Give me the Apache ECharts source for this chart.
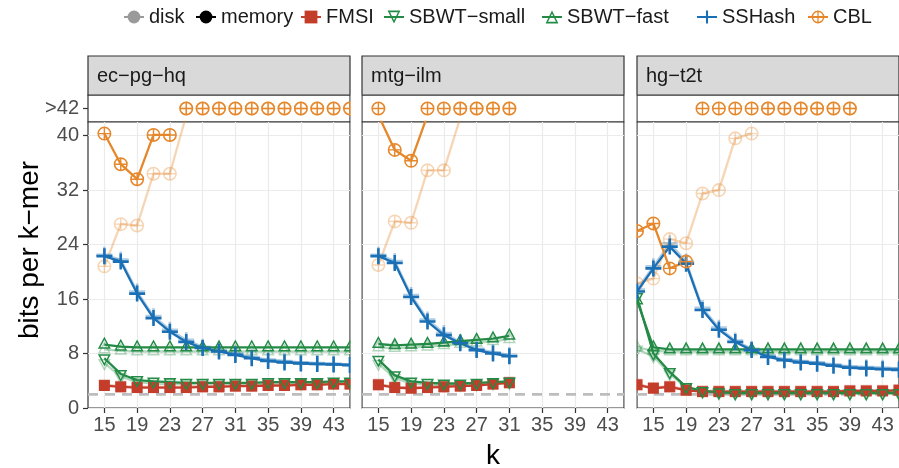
<!DOCTYPE html>
<html><head><meta charset="utf-8">
<script src="https://cdn.jsdelivr.net/npm/echarts@6/dist/echarts.min.js"></script>
<style>html,body{margin:0;padding:0;background:#fff}#c{width:899px;height:468px}</style>
</head><body><div id="c"></div>
<script>
// ---------- data ----------
const panelNames = ['ec\u2212pg\u2212hq', 'mtg\u2212ilm', 'hg\u2212t2t'];
const methodNames = ['FMSI', 'SBWT\u2212small', 'SBWT\u2212fast', 'SSHash', 'CBL'];
const modeNames = ['disk', 'memory'];
const kEc = [15,17,19,21,23,25,27,29,31,33,35,37,39,41,43,45];
const kMtg = [15,17,19,21,23,25,27,29,31];
const kHg = [13,15,17,19,21,23,25,27,29,31,33,35,37,39,41,43,45];
const xTicks = [15,19,23,27,31,35,39,43];
const yTicks = [0,8,16,24,32,40];
const topLabel = '>42';
const capValue = 42;
const boundValue = 2;
const OFF = Infinity; // far above the 42 cap: shown only in the ">42" row

// ec-pg-hq
const ecFmsiMem       = [3.3,3.1,3.0,3.0,3.0,3.0,3.1,3.1,3.2,3.2,3.3,3.3,3.4,3.4,3.5,3.5];
const ecFmsiDisk      = [3.4,3.2,3.1,3.1,3.1,3.1,3.2,3.2,3.3,3.3,3.4,3.4,3.5,3.5,3.6,3.6];
const ecSmallMem      = [7.3,5.0,4.1,3.9,3.8,3.7,3.7,3.7,3.7,3.7,3.8,3.8,3.8,3.8,3.9,3.9];
const ecSmallDisk     = [6.6,4.6,3.8,3.6,3.5,3.5,3.5,3.5,3.5,3.5,3.6,3.6,3.6,3.6,3.7,3.7];
const ecFastMem       = [9.3,9.0,8.9,8.9,8.9,8.9,8.9,8.9,8.9,8.9,8.9,8.9,8.9,8.9,8.9,8.9];
const ecFastDisk      = [8.6,8.4,8.3,8.3,8.3,8.3,8.3,8.3,8.3,8.3,8.3,8.3,8.3,8.3,8.3,8.3];
const ecSshashMem     = [22.3,21.5,16.8,13.2,11.2,9.7,8.8,8.3,7.8,7.3,6.9,6.7,6.55,6.45,6.4,6.3];
const ecSshashDisk    = [22.5,21.8,17.1,13.5,11.5,10.0,9.0,8.5,8.0,7.5,7.1,6.9,6.7,6.6,6.5,6.4];
const ecCblMem        = [40.3,35.8,33.6,40.1,40.1,OFF,OFF,OFF,OFF,OFF,OFF,OFF,OFF,OFF,OFF,OFF];
const ecCblDisk       = [20.8,27.0,26.8,34.4,34.4,43,OFF,OFF,OFF,OFF,OFF,OFF,OFF,OFF,OFF,OFF];
// mtg-ilm
const mtgFmsiMem      = [3.4,3.0,2.9,3.0,3.1,3.2,3.3,3.5,3.7];
const mtgFmsiDisk     = [3.5,3.1,3.0,3.1,3.2,3.3,3.4,3.6,3.8];
const mtgSmallMem     = [7.1,4.8,3.9,3.7,3.6,3.6,3.7,3.8,3.9];
const mtgSmallDisk    = [6.5,4.4,3.6,3.4,3.4,3.4,3.5,3.6,3.7];
const mtgFastMem      = [9.4,9.2,9.3,9.4,9.6,9.8,10.0,10.2,10.6];
const mtgFastDisk     = [8.9,8.8,8.9,9.0,9.2,9.4,9.6,9.8,10.1];
const mtgSshashMem    = [22.3,21.3,16.3,12.7,10.7,9.5,8.5,8.0,7.6];
const mtgSshashDisk   = [22.5,21.6,16.6,13.0,11.0,9.7,8.7,8.2,7.8];
const mtgCblMem       = [43.0,37.9,36.3,43.0,OFF,OFF,OFF,OFF,OFF];
const mtgCblDisk      = [21.0,27.4,27.2,34.9,34.9,42.6,OFF,OFF,OFF];
// hg-t2t
const hgFmsiMem       = [3.4,2.9,3.1,2.6,2.4,2.4,2.4,2.4,2.4,2.4,2.4,2.4,2.4,2.5,2.5,2.5,2.6];
const hgFmsiDisk      = [3.5,3.0,3.2,2.7,2.5,2.5,2.5,2.5,2.5,2.5,2.5,2.5,2.5,2.6,2.6,2.6,2.7];
const hgSmallMem      = [16.3,8.0,5.3,3.1,2.5,2.3,2.2,2.2,2.2,2.2,2.2,2.2,2.2,2.2,2.2,2.2,2.2];
const hgSmallDisk     = [8.6,7.6,5.0,3.0,2.4,2.2,2.1,2.1,2.1,2.1,2.1,2.1,2.1,2.1,2.1,2.1,2.1];
const hgFastMem       = [15.8,8.9,8.6,8.6,8.6,8.6,8.6,8.6,8.6,8.6,8.6,8.6,8.6,8.6,8.6,8.6,8.6];
const hgFastDisk      = [8.9,8.4,8.3,8.3,8.3,8.3,8.3,8.3,8.3,8.3,8.3,8.3,8.3,8.3,8.3,8.3,8.3];
const hgSshashMem     = [17.1,20.5,23.7,21.2,14.4,11.5,9.7,8.5,7.5,7.0,6.7,6.5,6.2,5.9,5.8,5.7,5.6];
const hgSshashDisk    = [17.4,20.8,24.2,21.5,14.7,11.8,9.9,8.7,7.7,7.2,6.9,6.7,6.4,6.1,6.0,5.9,5.8];
const hgCblMem        = [26.0,27.1,20.5,21.5,OFF,OFF,OFF,OFF,OFF,OFF,OFF,OFF,OFF,OFF,null,null,null];
const hgCblDisk       = [18.3,19.0,24.8,24.2,31.5,32.0,39.6,40.3,OFF,OFF,OFF,OFF,OFF,OFF,null,null,null];

// ---------- styling ----------
const FONT = '"Liberation Sans", Arial, Helvetica, sans-serif';
const colors = ['#c43d2a', '#238b45', '#238b45', '#1a6fb5', '#e5872a'];
const P_UP = 'path://M50,0 L100,87 L0,87 Z M50,22 L19,76 L81,76 Z';
const P_DOWN = 'path://M0,0 L100,0 L50,87 Z M19,11 L50,65 L81,11 Z';
const P_PLUS = 'path://M42,0 H58 V42 H100 V58 H58 V100 H42 V58 H0 V42 H42 Z';
const P_CPLUS = 'path://M0,50 A50,50 0 1,1 100,50 A50,50 0 1,1 0,50 Z M11,50 A39,39 0 1,0 89,50 A39,39 0 1,0 11,50 Z M45,6 H55 V94 H45 Z M6,45 H94 V55 H6 Z';
const symbols = [
  {symbol: 'rect', symbolSize: 11, symbolOffset: [0, 0]},
  {symbol: P_DOWN, symbolSize: [13, 12], symbolOffset: [0, 2]},
  {symbol: P_UP, symbolSize: [13, 12], symbolOffset: [0, -2]},
  {symbol: P_PLUS, symbolSize: 16, symbolOffset: [0, 0]},
  {symbol: P_CPLUS, symbolSize: 14, symbolOffset: [0, 0]}
];
const DISK_ALPHA = 0.35;

const panels = [
  {name: panelNames[0], ks: kEc, mem: [ecFmsiMem, ecSmallMem, ecFastMem, ecSshashMem, ecCblMem],
   disk: [ecFmsiDisk, ecSmallDisk, ecFastDisk, ecSshashDisk, ecCblDisk]},
  {name: panelNames[1], ks: kMtg, mem: [mtgFmsiMem, mtgSmallMem, mtgFastMem, mtgSshashMem, mtgCblMem],
   disk: [mtgFmsiDisk, mtgSmallDisk, mtgFastDisk, mtgSshashDisk, mtgCblDisk]},
  {name: panelNames[2], ks: kHg, mem: [hgFmsiMem, hgSmallMem, hgFastMem, hgSshashMem, hgCblMem],
   disk: [hgFmsiDisk, hgSmallDisk, hgFastDisk, hgSshashDisk, hgCblDisk]}
];

const panelLeft = [88, 362, 637];
const panelW = 262;
const stripTop = 56, stripH = 39;
const topTop = 95, topH = 27;
const mainTop = 122, mainH = 286;

const grid = [], xAxis = [], yAxis = [], series = [], graphic = [];
const tickStyle = {color: '#333', width: 1.2};
const labelStyle = {fontSize: 20, color: '#4d4d4d', fontFamily: FONT};

panels.forEach((pn, p) => {
  const L = panelLeft[p];
  grid.push({left: L, top: topTop, width: panelW, height: topH, show: true, borderColor: '#333', borderWidth: 1.2, backgroundColor: '#fff', outerBoundsMode: 'none'});
  grid.push({left: L, top: mainTop, width: panelW, height: mainH, show: true, borderColor: '#333', borderWidth: 1.2, backgroundColor: '#fff', outerBoundsMode: 'none'});
  xAxis.push({gridIndex: 2*p, type: 'value', min: 13, max: 45, show: false});
  yAxis.push({gridIndex: 2*p, type: 'category', data: [topLabel], axisLine: {show: false},
    axisTick: {show: p === 0, alignWithLabel: true, length: 5, lineStyle: tickStyle},
    axisLabel: {show: p === 0, margin: 9, ...labelStyle}, splitLine: {show: false}});
  xAxis.push({gridIndex: 2*p+1, type: 'value', min: 13, max: 45, axisLine: {show: false},
    axisTick: {show: true, customValues: xTicks, length: 5, lineStyle: tickStyle},
    axisLabel: {show: true, customValues: xTicks, margin: 7, ...labelStyle},
    splitLine: {show: true, lineStyle: {color: '#ebebeb', width: 1.2}}});
  yAxis.push({gridIndex: 2*p+1, type: 'value', min: 0, max: capValue, axisLine: {show: false},
    axisTick: {show: p === 0, customValues: yTicks, length: 5, lineStyle: tickStyle},
    axisLabel: {show: p === 0, customValues: yTicks, margin: 9, ...labelStyle},
    splitLine: {show: true, lineStyle: {color: '#ebebeb', width: 1.2}}});

  // strip
  graphic.push({type: 'rect', shape: {x: L, y: stripTop, width: panelW, height: stripH},
    style: {fill: '#d9d9d9', stroke: '#333', lineWidth: 1.2}, z: 10});
  graphic.push({type: 'text', x: L + 9, y: stripTop + stripH / 2 + 1,
    style: {text: pn.name, fontSize: 20, fontFamily: FONT, fill: '#1a1a1a', align: 'left', verticalAlign: 'middle'}, z: 11});

  // lower bound line
  series.push({type: 'line', name: 'bound' + p, xAxisIndex: 2*p+1, yAxisIndex: 2*p+1,
    data: [[13, boundValue], [45, boundValue]], symbol: 'none', silent: true, z: 1,
    lineStyle: {color: '#bdbdbd', width: 2.6, type: [10, 7]}});

  const addLine = (vals, m, alpha, tag) => {
    series.push({type: 'line', name: methodNames[m] + tag + p, xAxisIndex: 2*p+1, yAxisIndex: 2*p+1,
      data: pn.ks.map((k, i) => [k, (vals[i] == null || !isFinite(vals[i])) ? '-' : vals[i]]),
      symbol: symbols[m].symbol, symbolSize: symbols[m].symbolSize, symbolOffset: symbols[m].symbolOffset,
      showAllSymbol: true, clip: true, silent: true, z: alpha < 1 ? 2 : 3,
      lineStyle: {color: colors[m], width: 2.3, opacity: alpha},
      itemStyle: {color: colors[m], opacity: alpha}, emphasis: {disabled: true}});
    const top = [];
    pn.ks.forEach((k, i) => { if (vals[i] != null && vals[i] > capValue) top.push([k, topLabel]); });
    if (top.length) {
      series.push({type: 'scatter', name: methodNames[m] + tag + 'top' + p, xAxisIndex: 2*p, yAxisIndex: 2*p,
        data: top, symbol: symbols[m].symbol, symbolSize: symbols[m].symbolSize, silent: true, z: alpha < 1 ? 2 : 3,
        itemStyle: {color: colors[m], opacity: alpha}, emphasis: {disabled: true}});
    }
  };
  pn.disk.forEach((v, m) => addLine(v, m, DISK_ALPHA, ' disk '));
  pn.mem.forEach((v, m) => addLine(v, m, 1, ' memory '));
});

// white covers for the gaps between panels (emulate clipping of marks at panel edges)
[[350.7, 361.3], [624.7, 636.3]].forEach(g => {
  graphic.push({type: 'rect', shape: {x: g[0], y: topTop - 1, width: g[1] - g[0], height: mainTop + mainH - topTop + 1},
    style: {fill: '#fff'}, z: 50, silent: true});
});

// legend-only series
const legendSeries = [
  {name: modeNames[0], color: '#9a9a9a', symbol: 'circle'},
  {name: modeNames[1], color: '#000000', symbol: 'circle'}
].concat(methodNames.map((n, m) => ({name: n, color: colors[m], symbol: symbols[m].symbol})));
legendSeries.forEach(ls => series.unshift({type: 'line', name: ls.name, data: [], symbol: ls.symbol,
  xAxisIndex: 1, yAxisIndex: 1, lineStyle: {color: ls.color, width: 2.3}, itemStyle: {color: ls.color}}));

const legendCenters = [133, 205, 310, 393, 551, 706, 817];
const legend = legendSeries.map((ls, i) => ({
  data: [ls.name], left: legendCenters[i] - 10, top: 7, padding: 0, itemWidth: 20, itemHeight: 16,
  selectedMode: false, textStyle: {fontSize: 20, color: '#1a1a1a', fontFamily: FONT}
}));

graphic.push({type: 'text', x: 30, y: 250, rotation: Math.PI / 2,
  style: {text: 'bits per k\u2212mer', fontSize: 28, fontFamily: FONT, fill: '#000', align: 'center', verticalAlign: 'middle'}});
graphic.push({type: 'text', x: 493, y: 456,
  style: {text: 'k', fontSize: 28, fontFamily: FONT, fill: '#000', align: 'center', verticalAlign: 'middle'}});

const chart = echarts.init(document.getElementById('c'), null, {renderer: 'canvas'});
chart.setOption({animation: false, backgroundColor: '#fff', grid, xAxis, yAxis, series, legend, graphic});
</script></body></html>
